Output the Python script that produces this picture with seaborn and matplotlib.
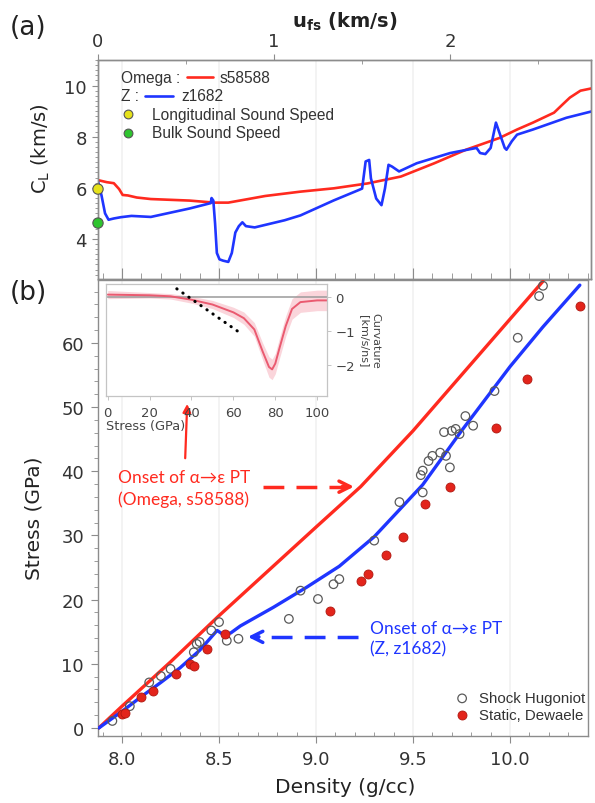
import matplotlib
matplotlib.use("Agg")
import matplotlib.pyplot as plt
from matplotlib.ticker import MultipleLocator, FormatStrFormatter, NullFormatter
import seaborn as sns

# ---------------- (a) sound speed vs free-surface velocity ----------------
u_omega = [0.00, 0.05, 0.09, 0.12, 0.14, 0.17, 0.22, 0.30, 0.52, 0.66, 0.74, 0.95,
           1.15, 1.34, 1.53, 1.72, 1.91, 2.09, 2.28, 2.38, 2.47, 2.59, 2.64, 2.68,
           2.74, 2.81]
cl_omega = [6.30, 6.22, 6.18, 5.95, 5.72, 5.70, 5.62, 5.56, 5.50, 5.42, 5.42, 5.68,
            5.85, 5.98, 6.17, 6.44, 6.96, 7.49, 7.95, 8.28, 8.55, 8.94, 9.27, 9.53,
            9.80, 9.90]

u_z = [0.00, 0.02, 0.04, 0.06, 0.09, 0.13, 0.19, 0.30, 0.52, 0.64, 0.645, 0.655,
       0.665, 0.675, 0.69, 0.71, 0.74, 0.76, 0.78, 0.80, 0.82, 0.84, 0.89, 1.06,
       1.15, 1.34, 1.48, 1.50, 1.52, 1.54, 1.55, 1.58, 1.61, 1.63, 1.65, 1.67,
       1.71, 1.81, 2.00, 2.15, 2.17, 2.20, 2.23, 2.26, 2.27, 2.31, 2.32, 2.35,
       2.38, 2.47, 2.66, 2.81]
cl_z = [6.25, 5.70, 5.00, 4.75, 4.80, 4.85, 4.90, 4.86, 5.19, 5.40, 5.60, 5.50,
        4.60, 3.45, 3.20, 3.15, 3.10, 3.45, 4.25, 4.50, 4.65, 4.50, 4.45, 4.73,
        4.92, 5.51, 5.91, 5.97, 7.03, 7.09, 6.37, 5.58, 5.32, 5.98, 6.90, 6.83,
        6.64, 6.96, 7.36, 7.56, 7.36, 7.32, 7.56, 8.55, 8.35, 7.56, 7.49, 7.82,
        8.08, 8.28, 8.74, 9.00]

ambient_u = [0.0, 0.0]
ambient_speed = [5.95, 4.62]
ambient_names = ["Longitudinal Sound Speed", "Bulk Sound Speed"]
ambient_colors = ["#e6e21a", "#2ec42e"]

# ---------------- (b) stress vs density ----------------
dens_omega = [7.88, 8.00, 8.25, 8.50, 8.75, 9.00, 9.23, 9.50, 9.75, 10.00, 10.17]
stress_omega = [0.0, 3.4, 10.3, 17.5, 24.4, 31.3, 37.6, 46.3, 55.0, 63.7, 69.6]

dens_z = [7.88, 8.00, 8.10, 8.20, 8.30, 8.40, 8.49, 8.52, 8.56, 8.61, 8.78, 8.95,
          9.12, 9.30, 9.43, 9.55, 9.75, 10.00, 10.17, 10.36]
stress_z = [0.0, 2.6, 4.9, 7.1, 9.4, 12.1, 15.2, 14.6, 14.8, 15.9, 18.8, 21.9,
            25.2, 29.8, 34.0, 37.9, 46.3, 56.3, 62.5, 69.0]

dens_hugoniot = [7.95, 8.04, 8.14, 8.20, 8.25, 8.37, 8.385, 8.40, 8.46, 8.50, 8.54,
                 8.60, 8.86, 8.92, 9.01, 9.09, 9.12, 9.30, 9.43, 9.54, 9.55, 9.55,
                 9.58, 9.60, 9.64, 9.66, 9.67, 9.69, 9.70, 9.72, 9.74, 9.77, 9.81,
                 9.92, 10.04, 10.15, 10.17]
stress_hugoniot = [1.1, 3.4, 7.1, 8.1, 9.2, 11.8, 13.1, 13.4, 15.2, 16.5, 13.6,
                   13.9, 17.0, 21.4, 20.1, 22.4, 23.2, 29.2, 35.2, 39.4, 36.7, 40.1,
                   41.6, 42.4, 42.9, 46.1, 42.4, 40.6, 46.3, 46.6, 45.8, 48.6, 47.1,
                   52.5, 60.8, 67.3, 68.9]

dens_dewaele = [8.00, 8.015, 8.10, 8.16, 8.28, 8.35, 8.37, 8.44, 8.53, 9.07, 9.23,
                9.27, 9.36, 9.45, 9.56, 9.69, 9.93, 10.09, 10.36]
stress_dewaele = [2.2, 2.4, 4.8, 5.8, 8.4, 10.0, 9.7, 12.3, 14.6, 18.2, 22.9, 24.0,
                  27.0, 29.7, 34.9, 37.5, 46.8, 54.4, 65.8]

# ---------------- inset: curvature vs stress ----------------
stress_curv = [0, 10, 20, 30, 40, 50, 60, 65, 70, 74, 77, 78.5, 80, 82, 85, 88,
               92, 100, 105]
curvature = [0.07, 0.06, 0.05, 0.02, -0.08, -0.22, -0.45, -0.62, -0.95, -1.60,
             -2.05, -2.12, -1.95, -1.50, -0.85, -0.35, -0.15, -0.10, -0.10]
curvature_err = [0.12, 0.10, 0.08, 0.08, 0.10, 0.12, 0.15, 0.18, 0.20, 0.25, 0.30,
                 0.30, 0.30, 0.30, 0.30, 0.30, 0.30, 0.30, 0.30]
slope_stress = [33.0, 62.7]
slope_curv = [0.24, -1.03]

RED = "#ff2a1f"
BLUE = "#1f35ff"
PINK = "#ea5a70"
PINK_BAND = "#f7b9c3"
SPINE = "#8c8c8c"
TICK_TXT = "#333333"

sns.set_theme(style="white")
plt.rcParams["font.family"] = ["DejaVu Sans"]
plt.rcParams["axes.edgecolor"] = SPINE
plt.rcParams["xtick.color"] = SPINE
plt.rcParams["ytick.color"] = SPINE
plt.rcParams["xtick.labelcolor"] = TICK_TXT
plt.rcParams["ytick.labelcolor"] = TICK_TXT

fig = plt.figure(figsize=(5.95, 8.04), dpi=100)
ax_a = fig.add_axes([0.1647, 0.6517, 0.8286, 0.2724])
ax_u = ax_a.twiny()
ax_b = fig.add_axes([0.1647, 0.0833, 0.8235, 0.5672])
ax_in = fig.add_axes([0.1782, 0.5062, 0.3714, 0.1393])

for ax in (ax_a, ax_u, ax_b):
    for sp in ax.spines.values():
        sp.set_color(SPINE)
        sp.set_linewidth(1.0)
for sp in ax_in.spines.values():
    sp.set_color("#c4c4c4")
    sp.set_linewidth(0.9)

# ---------------- panel (a) ----------------
ax_a.set_xlim(7.876, 10.418)
ax_a.set_ylim(2.43, 11.0)
ax_a.xaxis.set_major_locator(MultipleLocator(0.5))
ax_a.xaxis.set_minor_locator(MultipleLocator(0.1))
ax_a.xaxis.set_major_formatter(NullFormatter())
ax_a.tick_params(axis="x", which="major", direction="in", length=8, width=0.8)
ax_a.tick_params(axis="x", which="minor", direction="in", length=4.5, width=0.6)
ax_a.grid(axis="x", which="major", color="#f1f1f1", lw=1.2)
ax_a.yaxis.set_major_locator(MultipleLocator(2))
ax_a.yaxis.set_minor_locator(MultipleLocator(0.2))
ax_a.tick_params(axis="y", which="major", direction="out", length=4, width=0.8,
                 labelsize=13, pad=4, left=True)
ax_a.tick_params(axis="y", which="minor", direction="out", length=2.5, width=0.6,
                 left=True)
ax_a.set_ylabel(r"C$_\mathregular{L}$ (km/s)", fontsize=14, color="#222222")
ax_a.yaxis.set_label_coords(-0.093, 0.6)

ax_u.set_xlim(0, 2.80)
ax_u.xaxis.set_major_locator(MultipleLocator(1))
ax_u.xaxis.set_minor_locator(MultipleLocator(0.5))
ax_u.tick_params(axis="x", which="major", direction="out", length=4, width=0.8,
                 labelsize=13, pad=3)
ax_u.tick_params(axis="x", which="minor", direction="in", length=3, width=0.6)
ax_u.set_xlabel(r"$\mathbf{u_{fs}}$ (km/s)", fontsize=14, color="#222222",
                labelpad=4, fontweight="bold")

sns.lineplot(x=u_omega, y=cl_omega, ax=ax_u, color=RED, lw=1.9, sort=False,
             estimator=None)
sns.lineplot(x=u_z, y=cl_z, ax=ax_u, color=BLUE, lw=1.9, sort=False,
             estimator=None)
sns.scatterplot(x=ambient_u, y=ambient_speed, ax=ax_u, hue=ambient_names,
                palette=dict(zip(ambient_names, ambient_colors)), s=55,
                edgecolor="#555555", linewidth=0.8, legend=False, clip_on=False,
                zorder=5)
ax_u.set_ylim(2.43, 11.0)

# key for panel (a)
leg_kw = dict(transform=ax_a.transAxes, fontsize=11.2, color="#333333",
              family=["Liberation Sans", "DejaVu Sans"], va="center")
ax_a.text(0.047, 0.922, "Omega :", **leg_kw)
ax_a.plot([0.181, 0.233], [0.922, 0.922], color=RED, lw=1.9,
          transform=ax_a.transAxes)
ax_a.text(0.247, 0.922, "s58588", **leg_kw)
ax_a.text(0.047, 0.836, "Z :", **leg_kw)
ax_a.plot([0.095, 0.152], [0.836, 0.836], color=BLUE, lw=1.9,
          transform=ax_a.transAxes)
ax_a.text(0.170, 0.836, "z1682", **leg_kw)
for yy, name, col in zip([0.753, 0.667], ambient_names, ambient_colors):
    ax_a.scatter([0.061], [yy], s=40, color=col, edgecolor="#555555",
                 linewidth=0.8, transform=ax_a.transAxes, zorder=5)
    ax_a.text(0.110, yy, name, **leg_kw)

# ---------------- panel (b) ----------------
ax_b.set_xlim(7.876, 10.402)
ax_b.set_ylim(-1.25, 69.8)
ax_b.grid(axis="x", which="major", color="#f1f1f1", lw=1.2)
ax_b.xaxis.set_major_locator(MultipleLocator(0.5))
ax_b.xaxis.set_minor_locator(MultipleLocator(0.1))
ax_b.xaxis.set_major_formatter(FormatStrFormatter("%.1f"))
ax_b.yaxis.set_major_locator(MultipleLocator(10))
ax_b.yaxis.set_minor_locator(MultipleLocator(2))
ax_b.tick_params(axis="x", which="major", direction="out", length=5, width=0.8,
                 labelsize=13, pad=5, bottom=True)
ax_b.tick_params(axis="x", which="minor", direction="in", length=3, width=0.6,
                 bottom=True)
ax_b.tick_params(axis="y", which="major", direction="out", length=5, width=0.8,
                 labelsize=13, pad=5, left=True)
ax_b.tick_params(axis="y", which="minor", direction="out", length=3, width=0.6,
                 left=True)
ax_b.set_xlabel("Density (g/cc)", fontsize=14.5, color="#222222")
ax_b.xaxis.set_label_coords(0.504, -0.089)
ax_b.set_ylabel("Stress (GPa)", fontsize=14.5, color="#222222")
ax_b.yaxis.set_label_coords(-0.112, 0.48)

sns.scatterplot(x=dens_hugoniot, y=stress_hugoniot, ax=ax_b, marker="o", s=38,
                facecolor="none", edgecolor="#5a5a5a", linewidth=0.9,
                label="Shock Hugoniot", zorder=4)
sns.scatterplot(x=dens_dewaele, y=stress_dewaele, ax=ax_b, marker="o", s=42,
                color="#e3241b", edgecolor="#b01810", linewidth=0.6,
                label="Static, Dewaele", zorder=4)
sns.lineplot(x=dens_omega, y=stress_omega, ax=ax_b, color=RED, lw=2.4,
             sort=False, estimator=None, zorder=3)
sns.lineplot(x=dens_z, y=stress_z, ax=ax_b, color=BLUE, lw=2.4, sort=False,
             estimator=None, zorder=3)

ax_b.legend(loc="lower right", bbox_to_anchor=(1.012, 0.012), frameon=False,
            prop={"family": ["Liberation Sans", "DejaVu Sans"], "size": 10.8},
            labelcolor="#333333", handletextpad=0.5, labelspacing=0.15,
            borderaxespad=0.2, handlelength=1.2)

# phase-transition onset call-outs
txt_font = ["Lato", "DejaVu Sans"]
ax_b.text(7.98, 37.4, "Onset of α→ε PT\n(Omega, s58588)", color=RED,
          fontsize=12.5, family=txt_font, ha="left", va="center",
          linespacing=1.35)
ax_b.plot([8.727, 9.15], [37.6, 37.6], color=RED, lw=2.5, ls=(0, (6, 3.5)))
ax_b.annotate("", xy=(9.21, 37.6), xytext=(9.12, 37.6),
              arrowprops=dict(arrowstyle="->", color=RED, lw=2.5,
                              mutation_scale=20))
ax_b.text(9.28, 14.0, "Onset of α→ε PT\n(Z, z1682)", color=BLUE,
          fontsize=12.5, family=txt_font, ha="left", va="center",
          linespacing=1.35)
ax_b.plot([9.216, 8.69], [14.2, 14.2], color=BLUE, lw=2.5, ls=(0, (6, 3.5)))
ax_b.annotate("", xy=(8.634, 14.2), xytext=(8.72, 14.2),
              arrowprops=dict(arrowstyle="->", color=BLUE, lw=2.5,
                              mutation_scale=20))

# ---------------- inset ----------------
ax_in.set_facecolor("white")
ax_in.set_xlim(-0.8, 104.7)
ax_in.set_ylim(-2.9, 0.38)
lower = [c - e for c, e in zip(curvature, curvature_err)]
upper = [c + e for c, e in zip(curvature, curvature_err)]
ax_in.fill_between(stress_curv, lower, upper, color=PINK_BAND, alpha=0.6, lw=0)
ax_in.axhline(0, color="#9a9a9a", lw=1.1, zorder=1)
sns.lineplot(x=stress_curv, y=curvature, ax=ax_in, color=PINK, lw=1.4,
             sort=False, estimator=None)
sns.lineplot(x=slope_stress, y=slope_curv, ax=ax_in, color="black", lw=2.2,
             ls=(0, (0.1, 2.3)), dash_capstyle="round", sort=False,
             estimator=None)
ax_in.xaxis.set_major_locator(MultipleLocator(20))
ax_in.yaxis.set_major_locator(MultipleLocator(1))
ax_in.yaxis.tick_right()
ax_in.yaxis.set_label_position("right")
ax_in.tick_params(axis="x", direction="out", length=3, width=0.7, labelsize=9.5,
                  pad=4, bottom=True, labelcolor="#444444", color="#c4c4c4")
ax_in.tick_params(axis="y", direction="out", length=3, width=0.7, labelsize=9.5,
                  pad=3, right=True, left=False, labelcolor="#444444",
                  color="#c4c4c4")
ax_in.set_xlabel("Stress (GPa)", fontsize=9.3, loc="left", labelpad=0,
                 color="#444444")
ax_in.set_ylabel("Curvature\n[km/s/ns]", fontsize=8, rotation=270,
                 va="bottom", labelpad=3, color="#444444", linespacing=1.1)

ax_b.annotate("", xy=(38.0, -3.05), xycoords=ax_in.transData,
              xytext=(8.325, 41.6), textcoords="data",
              arrowprops=dict(arrowstyle="-|>", color=RED, lw=1.6,
                              mutation_scale=12))

fig.text(0.047, 0.965, "(a)", fontsize=19, color="#222222", ha="center",
         va="center")
fig.text(0.047, 0.636, "(b)", fontsize=19, color="#222222", ha="center",
         va="center")

fig.savefig("out.png", dpi=100, facecolor="white")
